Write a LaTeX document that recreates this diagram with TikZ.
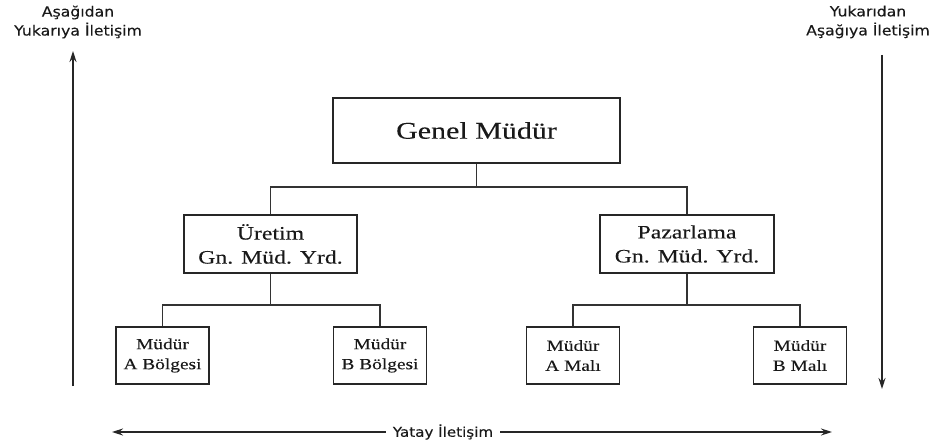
\documentclass[tikz,border=0pt]{standalone}
\usepackage{fontspec}
\usetikzlibrary{arrows.meta}
\newfontfamily\serifst[FakeStretch=1.25,FakeBold=0.15]{Liberation Serif}
\newfontfamily\sansst[FakeStretch=1.12,FakeBold=0.1]{DejaVu Sans}
\tikzset{
  box/.style={draw=black!85, line width=1.3pt, fill=white, inner sep=0pt, align=center, text=black!90},
  bigbox/.style={box, minimum width=287pt, minimum height=65pt, font=\serifst\fontsize{24}{28}\selectfont},
  midbox/.style={box, minimum width=173pt, minimum height=58pt, font=\serifst\fontsize{19}{24}\selectfont},
  smallbox/.style={box, minimum width=93pt, minimum height=57pt, font=\serifst\fontsize{15.5}{20}\selectfont},
  conn/.style={draw=black!80, line width=1.2pt},
  flow/.style={draw=black!85, line width=1.4pt, -{Stealth[length=11pt,width=7pt]}},
  lbl/.style={align=center, inner sep=0pt, text=black!90, font=\sansst\fontsize{14}{19}\selectfont}
}
\begin{document}
\begin{tikzpicture}[x=1pt,y=-1pt]
\useasboundingbox[fill=white] (0,0) rectangle (940,444);

\node[bigbox] (genel) at (476.5,130.5) {Genel Müdür};
\node[midbox] (uretim) at (270.5,244) {Üretim\\Gn. Müd. Yrd.};
\node[midbox, minimum width=174pt] (pazar) at (687,244) {Pazarlama\\Gn. Müd. Yrd.};
\node[smallbox] (ab) at (162.5,355.5) {Müdür\\A Bölgesi};
\node[smallbox] (bb) at (380,355.5) {Müdür\\B Bölgesi};
\node[smallbox] (am) at (573,355.5) {Müdür\\A Malı};
\node[smallbox] (bm) at (800,355.5) {Müdür\\B Malı};

\coordinate (bus1) at (476.5,187);
\coordinate (bus2) at (270.5,305);
\coordinate (bus3) at (687,305);

\draw[conn] (genel.south) -- (bus1);
\draw[conn] (uretim.north) -- (uretim.north |- bus1) -- (pazar.north |- bus1) -- (pazar.north);
\draw[conn] (uretim.south) -- (bus2);
\draw[conn] (ab.north) -- (ab.north |- bus2) -- (bb.north |- bus2) -- (bb.north);
\draw[conn] (pazar.south) -- (bus3);
\draw[conn] (am.north) -- (am.north |- bus3) -- (bm.north |- bus3) -- (bm.north);

\node[lbl] (up) at (78,22) {Aşağıdan\\Yukarıya İletişim};
\node[lbl] (down) at (868,22) {Yukarıdan\\Aşağıya İletişim};
\node[lbl, font=\sansst\fontsize{13.5}{16}\selectfont, inner sep=7pt] (yatay) at (443,432) {Yatay İletişim};

\coordinate (lbot) at (73,386);
\coordinate (ltop) at (73,51);
\coordinate (rtop) at (882,55);
\coordinate (rbot) at (882,389);
\coordinate (hleft) at (112,432);
\coordinate (hright) at (832,432);

\draw[flow] (lbot) -- (ltop);
\draw[flow] (rtop) -- (rbot);
\draw[flow] (yatay.west) -- (hleft);
\draw[flow] (yatay.east) -- (hright);
\end{tikzpicture}
\end{document}
